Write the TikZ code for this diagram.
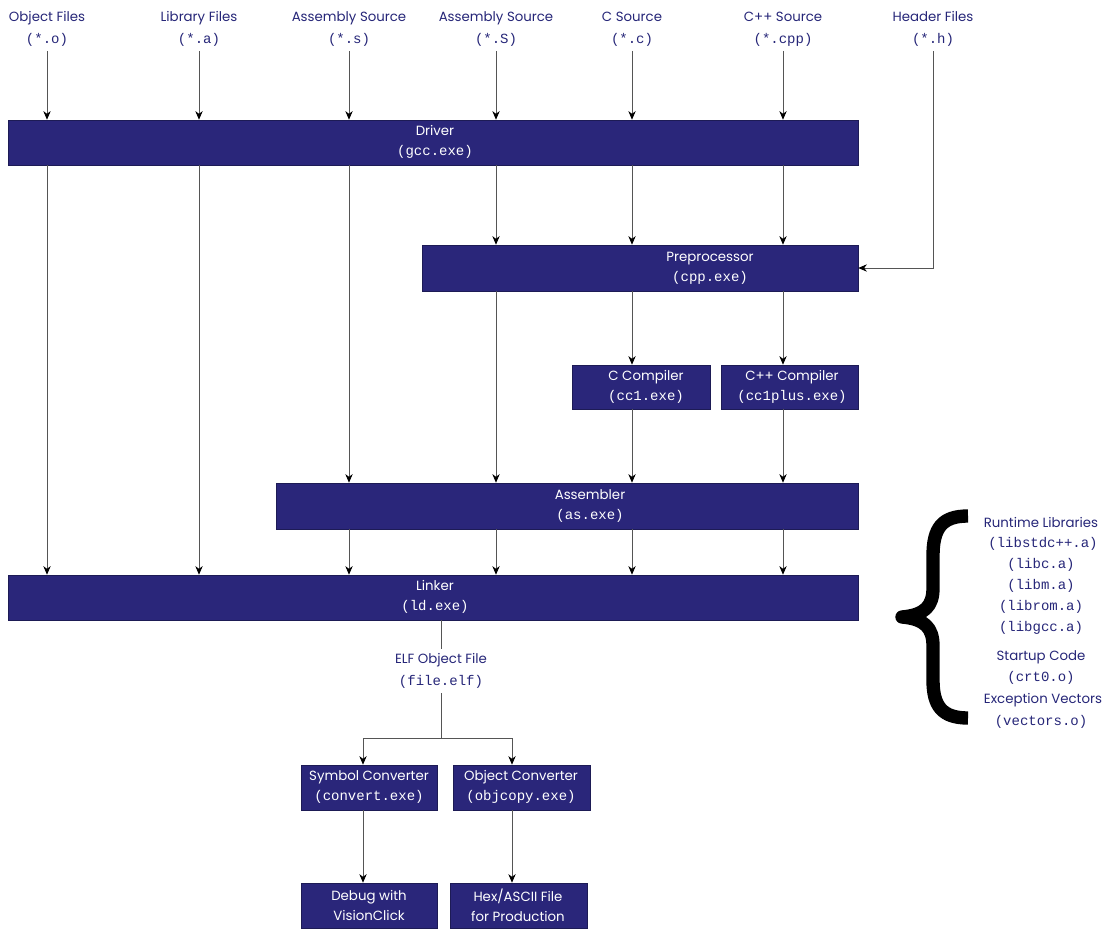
\documentclass[tikz,border=0pt]{standalone}
\usepackage{fontspec}
\setmainfont{Poppins}
\setmonofont{Liberation Mono}
\usetikzlibrary{arrows.meta,fit}
\definecolor{boxblue}{RGB}{42,38,122}
\definecolor{labblue}{RGB}{38,38,120}
\definecolor{linegray}{RGB}{85,85,85}
\newcommand\fn[1]{{\fontsize{10.5}{15}\ttfamily #1}}
\begin{document}
\begin{tikzpicture}[x=0.75pt,y=-0.75pt,
  box/.style={fill=boxblue, draw=boxblue!70!black, line width=0.4pt, inner sep=0pt},
  boxtext/.style={text=white, align=center, font=\fontsize{10}{15}\selectfont},
  lab/.style={text=labblue, align=center, font=\fontsize{10}{16.5}\selectfont},
  rlab/.style={text=labblue, align=center, font=\fontsize{10}{12}\selectfont},
  conn/.style={draw=linegray, line width=0.6pt},
  arr/.style={conn, -{Stealth[length=6.5pt,width=5.5pt,color=black]}}]
\useasboundingbox (0,0) rectangle (1113,930);

% source labels
\node[lab] (lo)   at (47,29)  {Object Files\\\fn{(*.o)}};
\node[lab] (la)   at (199,29) {Library Files\\\fn{(*.a)}};
\node[lab] (ls)   at (349,29) {Assembly Source\\\fn{(*.s)}};
\node[lab] (lS)   at (496,29) {Assembly Source\\\fn{(*.S)}};
\node[lab] (lc)   at (632,29) {C Source\\\fn{(*.c)}};
\node[lab] (lcpp) at (783,29) {C++ Source\\\fn{(*.cpp)}};
\node[lab] (lh)   at (933,29) {Header Files\\\fn{(*.h)}};

% boxes
\node[box, fit={(8,120) (858,165)}] (drv) {};
\node[boxtext] (drvt) at (435,142) {Driver\\\fn{(gcc.exe)}};
\node[box, fit={(422,245) (858,291)}] (pre) {};
\node[boxtext] (pret) at (710,268) {Preprocessor\\\fn{(cpp.exe)}};
\node[box, fit={(572,365) (710,409)}] (cc) {};
\node[boxtext] (cct) at (646,387) {C Compiler\\\fn{(cc1.exe)}};
\node[box, fit={(721,365) (858,409)}] (cxx) {};
\node[boxtext] (cxxt) at (792,387) {C++ Compiler\\\fn{(cc1plus.exe)}};
\node[box, fit={(276,483) (858,529)}] (asm) {};
\node[boxtext] (asmt) at (590,506) {Assembler\\\fn{(as.exe)}};
\node[box, fit={(8,575) (858,620)}] (lnk) {};
\node[boxtext] (lnkt) at (435,597) {Linker\\\fn{(ld.exe)}};

\node[lab] (elf) at (441,671) {ELF Object File\\\fn{(file.elf)}};

\node[box, fit={(301,765) (437,810)}] (sym) {};
\node[boxtext] (symt) at (369,787) {Symbol Converter\\\fn{(convert.exe)}};
\node[box, fit={(453,765) (590,810)}] (obj) {};
\node[boxtext] (objt) at (521,787) {Object Converter\\\fn{(objcopy.exe)}};
\node[box, fit={(301,883) (437,928)}] (dbg) {};
\node[boxtext] (dbgt) at (369,905) {Debug with\\VisionClick};
\node[box, fit={(450,883) (587,928)}] (hex) {};
\node[boxtext] (hext) at (518,905) {Hex/ASCII File\\for Production};

% runtime libraries
\node[rlab] (r1)  at (1041,522) {Runtime Libraries};
\node[rlab] (r2)  at (1043,544) {\fn{(libstdc++.a)}};
\node[rlab] (r3)  at (1041,565) {\fn{(libc.a)}};
\node[rlab] (r4)  at (1041,586) {\fn{(libm.a)}};
\node[rlab] (r5)  at (1041,607) {\fn{(librom.a)}};
\node[rlab] (r6)  at (1041,628) {\fn{(libgcc.a)}};
\node[rlab] (r7)  at (1041,657) {Startup Code};
\node[rlab] (r8)  at (1041,678) {\fn{(crt0.o)}};
\node[rlab] (r9)  at (1043,700) {Exception Vectors};
\node[rlab] (r10) at (1041,722) {\fn{(vectors.o)}};

% brace
\draw[line width=10pt, line join=round, line cap=butt]
  (968,516) .. controls (942,516) and (933,528) .. (933,556) -- (933,588)
  .. controls (933,606) and (925,615) .. (902,617)
  .. controls (925,619) and (933,628) .. (933,646) -- (933,680)
  .. controls (933,706) and (942,718) .. (968,718);

% sources into driver
\foreach \n in {lo,la,ls,lS,lc,lcpp}
  \draw[arr] (\n.south) -- (drv.north -| \n.south);
% header into preprocessor
\draw[arr] (lh.south) |- (pre.east);
% driver to linker / assembler / preprocessor
\draw[arr] (drv.south -| lo.south) -- (lnk.north -| lo.south);
\draw[arr] (drv.south -| la.south) -- (lnk.north -| la.south);
\draw[arr] (drv.south -| ls.south) -- (asm.north -| ls.south);
\foreach \n in {lS,lc,lcpp}
  \draw[arr] (drv.south -| \n.south) -- (pre.north -| \n.south);
% preprocessor outputs
\draw[arr] (pre.south -| lS.south) -- (asm.north -| lS.south);
\draw[arr] (pre.south -| lc.south) -- (cc.north -| lc.south);
\draw[arr] (pre.south -| lcpp.south) -- (cxx.north -| lcpp.south);
% compilers to assembler
\draw[arr] (cc.south -| lc.south) -- (asm.north -| lc.south);
\draw[arr] (cxx.south -| lcpp.south) -- (asm.north -| lcpp.south);
% assembler to linker
\foreach \n in {ls,lS,lc,lcpp}
  \draw[arr] (asm.south -| \n.south) -- (lnk.north -| \n.south);

% linker output
\coordinate (split) at (441,738);
\coordinate (a1) at (363,0);
\coordinate (a2) at (512,0);
\draw[conn] (lnk.south -| elf.north) -- (elf.north);
\draw[conn] (elf.south) -- (split);
\draw[arr] (split) -| (sym.north -| a1);
\draw[arr] (split) -| (obj.north -| a2);
\draw[arr] (sym.south -| a1) -- (dbg.north -| a1);
\draw[arr] (obj.south -| a2) -- (hex.north -| a2);
\end{tikzpicture}
\end{document}
